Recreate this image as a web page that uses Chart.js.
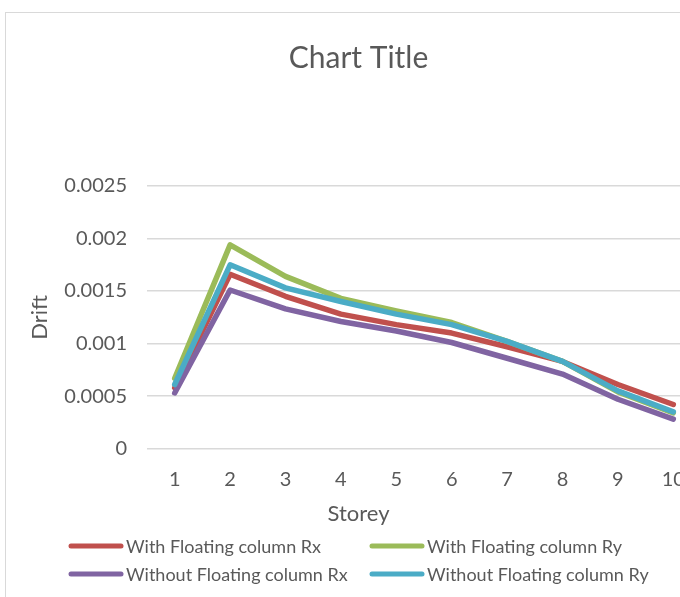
<!DOCTYPE html>
<html>
<head>
<meta charset="utf-8">
<script src="https://cdn.jsdelivr.net/npm/chart.js@4"></script>
<style>
  body { margin: 0; background: #fff; overflow: hidden; }
  #box { position: absolute; left: 5px; top: 12px; width: 700px; height: 590px; border: 1px solid #d9d9d9; }
</style>
</head>
<body>
<div id="box"><canvas id="myChart"></canvas></div>
<script>
var storeys = ['1', '2', '3', '4', '5', '6', '7', '8', '9', '10'];
var yTickLabels = ['0', '0.0005', '0.001', '0.0015', '0.002', '0.0025'];

var withRx    = [0.00058, 0.00166, 0.00145, 0.00128, 0.00118, 0.00110, 0.00097, 0.00083, 0.00061, 0.00042];
var withRy    = [0.00067, 0.00194, 0.00164, 0.00143, 0.00131, 0.00120, 0.00102, 0.00083, 0.00054, 0.00034];
var withoutRx = [0.00053, 0.00151, 0.00133, 0.00121, 0.00112, 0.00101, 0.00086, 0.00071, 0.00047, 0.00028];
var withoutRy = [0.00061, 0.00175, 0.00153, 0.00140, 0.00128, 0.00118, 0.00102, 0.00083, 0.00055, 0.00035];

var textColor = '#595959';
var fontFamily = 'Lato, "Open Sans", sans-serif';

// legend drawn in two fixed columns like the Excel one
var gridLegend = {
  id: 'gridLegend',
  afterDraw: function (chart) {
    var ctx = chart.ctx;
    var cols = [62, 363];
    var rows = [chart.height - 57, chart.height - 29];
    ctx.save();
    ctx.font = '18px ' + fontFamily;
    ctx.textBaseline = 'middle';
    ctx.lineCap = 'round';
    chart.data.datasets.forEach(function (ds, i) {
      var x = cols[i % 2], y = rows[Math.floor(i / 2)];
      ctx.strokeStyle = ds.borderColor;
      ctx.lineWidth = 5;
      ctx.beginPath();
      ctx.moveTo(x + 3, y);
      ctx.lineTo(x + 53, y);
      ctx.stroke();
      ctx.fillStyle = textColor;
      ctx.fillText(ds.label, x + 58, y + 1);
    });
    ctx.restore();
  }
};

function makeSet(label, data, color, order) {
  return {
    label: label,
    data: data,
    borderColor: color,
    backgroundColor: color,
    borderWidth: 5.5,
    pointRadius: 0,
    fill: false,
    tension: 0,
    borderCapStyle: 'round',
    borderJoinStyle: 'round',
    order: order
  };
}

var ctx = document.getElementById('myChart').getContext('2d');
var myChart = new Chart(ctx, {
  type: 'line',
  data: {
    labels: storeys,
    datasets: [
      makeSet('With Floating column Rx', withRx, '#C0504D', 4),
      makeSet('With Floating column Ry', withRy, '#9BBB59', 3),
      makeSet('Without Floating column Rx', withoutRx, '#8064A2', 2),
      makeSet('Without Floating column Ry', withoutRy, '#4BACC6', 1)
    ]
  },
  options: {
    responsive: true,
    maintainAspectRatio: false,
    animation: false,
    layout: { padding: { left: 10, right: 5, top: 0, bottom: 76 } },
    plugins: {
      legend: { display: false },
      tooltip: { enabled: false },
      title: {
        display: true,
        text: 'Chart Title',
        color: textColor,
        font: { family: fontFamily, size: 30, weight: 'normal' },
        padding: { top: 27, bottom: 110 }
      },
      subtitle: {
        display: true,
        position: 'bottom',
        text: 'Storey',
        color: textColor,
        font: { family: fontFamily, size: 22, weight: 'normal' },
        padding: { top: 9, bottom: 0 }
      }
    },
    scales: {
      x: {
        offset: true,
        afterFit: function (scale) { scale.height = 43; },
        grid: { display: false, drawTicks: false },
        border: { display: false },
        ticks: { color: textColor, padding: 19, font: { family: fontFamily, size: 20 } }
      },
      y: {
        min: 0,
        max: 0.0025,
        afterFit: function (scale) { scale.width = 131; },
        grid: { color: '#d9d9d9', lineWidth: 1.5, drawTicks: false },
        border: { display: false },
        ticks: {
          stepSize: 0.0005,
          color: textColor,
          padding: 20,
          font: { family: fontFamily, size: 20 },
          callback: function (v, i) { return yTickLabels[i]; }
        },
        title: {
          display: true,
          text: 'Drift',
          color: textColor,
          font: { family: fontFamily, size: 22, weight: 'normal' },
          padding: { top: 11, bottom: 11 }
        }
      }
    }
  },
  plugins: [gridLegend]
});
</script>
</body>
</html>
